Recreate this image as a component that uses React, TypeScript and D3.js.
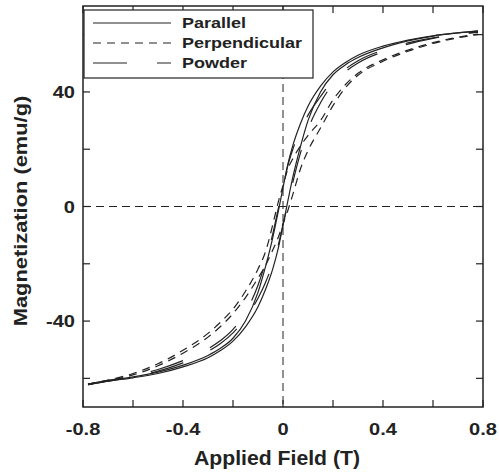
import React from 'react';
import * as d3 from 'd3';

// applied field grid (T), shared by every branch
const field = [-0.78, -0.7, -0.6, -0.5, -0.4, -0.3, -0.25, -0.2, -0.15, -0.1, -0.07, -0.04, -0.02, 0,
  0.02, 0.04, 0.07, 0.1, 0.15, 0.2, 0.25, 0.3, 0.4, 0.5, 0.6, 0.7, 0.78];

// magnetization (emu/g), descending (from +H) and ascending (from -H) branches
const parallelDown = [-62.0, -60.8, -59.5, -57.8, -55.4, -52.0, -49.5, -46.0, -40.0, -30.0, -21.0, -10.5, -2.2, 6.5,
  15.0, 21.5, 29.0, 35.0, 42.0, 47.0, 50.3, 52.8, 56.0, 58.1, 59.6, 60.6, 61.3];
const parallelUp = [-62.2, -61.0, -59.8, -58.3, -56.0, -52.8, -50.3, -47.0, -42.0, -35.0, -29.0, -21.5, -15.0, -6.5,
  2.2, 10.5, 21.0, 30.0, 40.0, 46.0, 49.5, 52.0, 55.4, 57.8, 59.5, 60.6, 61.2];

const perpDown = [-62.0, -60.6, -58.3, -54.9, -50.2, -44.3, -40.4, -35.8, -29.6, -21.8, -15.8, -6.0, 1.2, 7.3,
  13.2, 16.8, 21.2, 24.8, 30.0, 37.2, 42.6, 46.5, 51.2, 54.6, 57.2, 59.1, 60.2];
const perpUp = [-62.2, -60.9, -58.8, -55.6, -51.2, -45.6, -41.9, -37.4, -31.8, -25.0, -20.6, -15.0, -11.0, -6.0,
  -1.2, 4.4, 13.2, 19.5, 27.4, 35.2, 41.5, 45.8, 50.7, 54.2, 56.9, 58.9, 60.0];

const powderDown = [-62.0, -60.7, -59.1, -56.9, -53.8, -49.7, -46.8, -42.9, -36.9, -27.5, -19.4, -9.2, -1.2, 6.7,
  14.5, 20.1, 26.7, 31.9, 38.4, 44.1, 48.0, 50.9, 54.6, 57.1, 58.9, 60.2, 61.0];
const powderUp = [-62.2, -61.0, -59.5, -57.5, -54.6, -50.6, -47.8, -44.1, -38.9, -32.0, -26.5, -19.6, -13.8, -6.4,
  1.2, 8.7, 18.7, 26.9, 36.2, 42.8, 47.1, 50.1, 54.0, 56.7, 58.7, 60.1, 60.8];

const seriesNames = ['Parallel', 'Perpendicular', 'Powder'];
const seriesDash = ['none', '8,6', '34,30'];
const branches = [
  [parallelDown, parallelUp],
  [perpDown, perpUp],
  [powderDown, powderUp],
];

const xTicks = [-0.8, -0.6, -0.4, -0.2, 0, 0.2, 0.4, 0.6, 0.8];
const xLabels = [-0.8, -0.4, 0, 0.4, 0.8];
const yTicks = [-60, -40, -20, 0, 20, 40, 60];
const yLabels = [-40, 0, 40];

const ink = '#222';
const font = 'Liberation Sans, Arial, Helvetica, sans-serif';

const left = 83, right = 483, top = 6, bottom = 407;

const App = () => {
  const x = d3.scaleLinear().domain([-0.8, 0.8]).range([left, right]);
  const y = d3.scaleLinear().domain([-70, 70]).range([bottom, top]);

  const line = d3.line<number>()
    .x((d, i) => x(field[i]))
    .y(d => y(d))
    .curve(d3.curveMonotoneX);

  const fmt = (v: number) => (v === 0 ? '0' : String(v));

  return (
    <svg width={499} height={475} style={{ position: 'absolute', left: 0, top: 0 }}>
      <rect width={499} height={475} fill="#fff" />

      {/* zero lines */}
      <line x1={x(0)} x2={x(0)} y1={top} y2={bottom} stroke={ink} strokeWidth={1} strokeDasharray="8,5" />
      <line x1={left} x2={right} y1={y(0)} y2={y(0)} stroke={ink} strokeWidth={1} strokeDasharray="8,5" />

      {/* loops */}
      {branches.map((pair, s) =>
        pair.map((vals, b) => (
          <path key={`${s}-${b}`} d={line(vals) || ''} fill="none" stroke={ink}
            strokeWidth={1.2} strokeDasharray={seriesDash[s]} />
        ))
      )}

      {/* frame and inward ticks */}
      <rect x={left} y={top} width={right - left} height={bottom - top} fill="none" stroke={ink} strokeWidth={1.5} />
      {xTicks.map(t => (
        <g key={`xt${t}`}>
          <line x1={x(t)} x2={x(t)} y1={bottom} y2={bottom - 7} stroke={ink} strokeWidth={1.2} />
          <line x1={x(t)} x2={x(t)} y1={top} y2={top + 7} stroke={ink} strokeWidth={1.2} />
        </g>
      ))}
      {yTicks.map(t => (
        <g key={`yt${t}`}>
          <line x1={left} x2={left + 7} y1={y(t)} y2={y(t)} stroke={ink} strokeWidth={1.2} />
          <line x1={right} x2={right - 7} y1={y(t)} y2={y(t)} stroke={ink} strokeWidth={1.2} />
        </g>
      ))}

      {/* tick labels */}
      {xLabels.map(t => (
        <text key={`xl${t}`} transform={`translate(${x(t)},435) scale(1.18,1)`} textAnchor="middle"
          fontFamily={font} fontWeight="bold" fontSize={17} fill={ink}>{fmt(t)}</text>
      ))}
      {yLabels.map(t => (
        <text key={`yl${t}`} transform={`translate(75,${y(t) + 6}) scale(1.18,1)`} textAnchor="end"
          fontFamily={font} fontWeight="bold" fontSize={17} fill={ink}>{fmt(t)}</text>
      ))}

      {/* axis titles */}
      <text transform="translate(277,465) scale(1.06,1)" textAnchor="middle"
        fontFamily={font} fontWeight="bold" fontSize={20} fill={ink}>Applied Field (T)</text>
      <text transform="translate(27,211) rotate(-90) scale(1.15,1)" textAnchor="middle"
        fontFamily={font} fontWeight="bold" fontSize={19} fill={ink}>Magnetization (emu/g)</text>

      {/* legend */}
      <rect x={84} y={10} width={229} height={68} fill="#fff" stroke={ink} strokeWidth={1.2} />
      {seriesNames.map((name, i) => (
        <g key={name}>
          <line x1={93} x2={171} y1={23 + i * 20} y2={23 + i * 20} stroke={ink} strokeWidth={1.2}
            strokeDasharray={seriesDash[i]} />
          <text transform={`translate(182,${28 + i * 20}) scale(1.2,1)`} fontFamily={font}
            fontWeight="bold" fontSize={15} fill={ink}>{name}</text>
        </g>
      ))}
    </svg>
  );
};

export default App;
